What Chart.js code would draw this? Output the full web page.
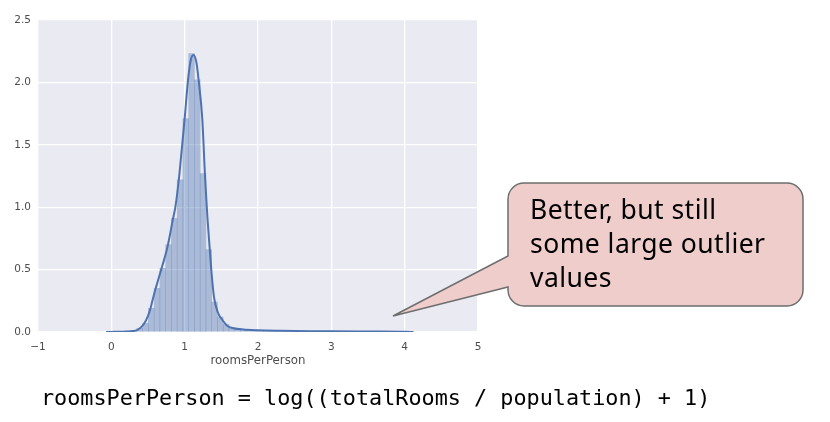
<!DOCTYPE html>
<html>
<head>
<meta charset="utf-8">
<script src="https://cdn.jsdelivr.net/npm/chart.js@4/dist/chart.umd.min.js"></script>
<style>
  html, body { margin:0; padding:0; background:#fff; }
  #wrap { position:relative; width:830px; height:422px; overflow:hidden; background:#fff; }
  #c { position:absolute; left:0; top:0; }
  #shape { position:absolute; left:0; top:0; }
  #callout { position:absolute; left:530px; top:192px; font-family:"Noto Sans", sans-serif; font-size:26.5px; letter-spacing:0.45px; line-height:34px; color:#000; white-space:nowrap; }
  #formula { position:absolute; left:41px; top:385px; font-family:"DejaVu Sans Mono", monospace; font-size:21.8px; line-height:26px; color:#000; white-space:nowrap; }
</style>
</head>
<body>
<div id="wrap">
  <canvas id="c" width="830" height="422"></canvas>
  <svg id="shape" width="830" height="422">
    <path d="M524,183 H787 A16,16 0 0 1 803,199 V290 A16,16 0 0 1 787,306 H524 A16,16 0 0 1 508,290 V287 L393,316 L508,256 V199 A16,16 0 0 1 524,183 Z"
          fill="#EECDCB" stroke="#6E6E6E" stroke-width="1.5"/>
  </svg>
  <div id="callout">Better, but still<br>some large outlier<br>values</div>
  <div id="formula">roomsPerPerson = log((totalRooms / population) + 1)</div>
</div>
<script>
// Histogram bin centers (roomsPerPerson) and density heights
const binCenters = [0.073,0.152,0.230,0.309,0.387,0.466,0.544,0.623,0.701,0.780,
  0.858,0.937,1.015,1.094,1.172,1.251,1.329,1.408,1.486,1.565,
  1.643,1.722,1.800,1.879,1.957,2.036,2.114,2.193,2.271,2.350,
  2.428,2.507,2.585,2.664,2.742,2.821,2.899,2.978,3.056,3.135,
  3.213,3.292,3.370,3.449,3.527,3.606,3.684,3.763,3.841,3.920];
const binDensity = [0.003,0.004,0.006,0.012,0.03,0.07,0.19,0.35,0.51,0.70,
  0.91,1.22,1.71,2.23,2.02,1.27,0.66,0.24,0.12,0.06,
  0.035,0.025,0.02,0.018,0.015,0.013,0.012,0.011,0.010,0.009,
  0.008,0.007,0.007,0.006,0.006,0.005,0.005,0.005,0.004,0.004,
  0.004,0.003,0.003,0.003,0.003,0.002,0.002,0.002,0.002,0.002];
// KDE curve
const kdeX = [-0.07,0.0,0.1,0.2,0.3,0.35,0.4,0.45,0.5,0.53,0.56,0.6,0.64,0.68,0.72,0.765,0.8,0.835,0.873,0.92,0.96,1.0,1.046,1.08,1.12,1.16,1.19,1.24,1.28,1.31,1.34,1.37,1.40,1.45,1.51,1.58,1.67,1.8,2.0,2.3,2.7,3.0,3.5,4.0,4.12];
const kdeY = [0.0,0.001,0.002,0.004,0.008,0.015,0.035,0.07,0.13,0.18,0.25,0.34,0.42,0.50,0.58,0.68,0.78,0.89,1.00,1.22,1.46,1.71,2.02,2.17,2.22,2.16,2.02,1.71,1.22,0.92,0.68,0.45,0.28,0.16,0.10,0.05,0.03,0.02,0.014,0.01,0.007,0.006,0.004,0.002,0.0];
const xTicks = [-1,0,1,2,3,4,5];
const yTicks = [0.0,0.5,1.0,1.5,2.0,2.5];
const xTitle = 'roomsPerPerson';

const bgPlugin = {
  id: 'plotBg',
  beforeDraw(chart) {
    const {ctx, chartArea: a} = chart;
    ctx.save();
    ctx.fillStyle = '#EAEAF2';
    ctx.fillRect(a.left, a.top, a.right - a.left, a.bottom - a.top);
    ctx.restore();
  }
};

const tickFont = { family: 'DejaVu Sans', size: 10.5 };
new Chart(document.getElementById('c'), {
  data: {
    datasets: [
      {
        type: 'bar',
        data: binCenters.map((x, i) => ({ x, y: binDensity[i] })),
        backgroundColor: 'rgba(76,114,176,0.4)',
        borderWidth: 0,
        barPercentage: 1.0,
        categoryPercentage: 1.0,
        order: 2
      },
      {
        type: 'line',
        data: kdeX.map((x, i) => ({ x, y: kdeY[i] })),
        borderColor: '#4C72B0',
        borderWidth: 2,
        pointRadius: 0,
        cubicInterpolationMode: 'monotone',
        fill: false,
        order: 1
      }
    ]
  },
  options: {
    responsive: false,
    devicePixelRatio: 1,
    animation: false,
    layout: { padding: { left: 0, top: 20, right: 352, bottom: 50 } },
    plugins: { legend: { display: false }, tooltip: { enabled: false } },
    scales: {
      x: {
        type: 'linear',
        min: -1, max: 5,
        offset: false,
        afterFit(s) { s.height = 40; },
        afterBuildTicks(s) { s.ticks = xTicks.map(v => ({ value: v })); },
        grid: { color: '#ffffff', lineWidth: 1.3, drawTicks: false, offset: false },
        border: { display: false },
        ticks: {
          padding: 9,
          color: '#4d4d4d',
          font: tickFont,
          maxRotation: 0,
          callback: v => (v < 0 ? '\u2212' + Math.abs(v) : String(v))
        },
        title: { display: true, text: xTitle, color: '#4d4d4d', font: { family: 'DejaVu Sans', size: 11.8 }, padding: 4 }
      },
      y: {
        type: 'linear',
        min: 0, max: 2.5,
        afterFit(s) { s.width = 38; },
        afterBuildTicks(s) { s.ticks = yTicks.map(v => ({ value: v })); },
        grid: { color: '#ffffff', lineWidth: 1.3, drawTicks: false },
        border: { display: false },
        ticks: {
          padding: 7,
          color: '#4d4d4d',
          font: tickFont,
          callback: v => Number(v).toFixed(1)
        }
      }
    }
  },
  plugins: [bgPlugin]
});
</script>
</body>
</html>
